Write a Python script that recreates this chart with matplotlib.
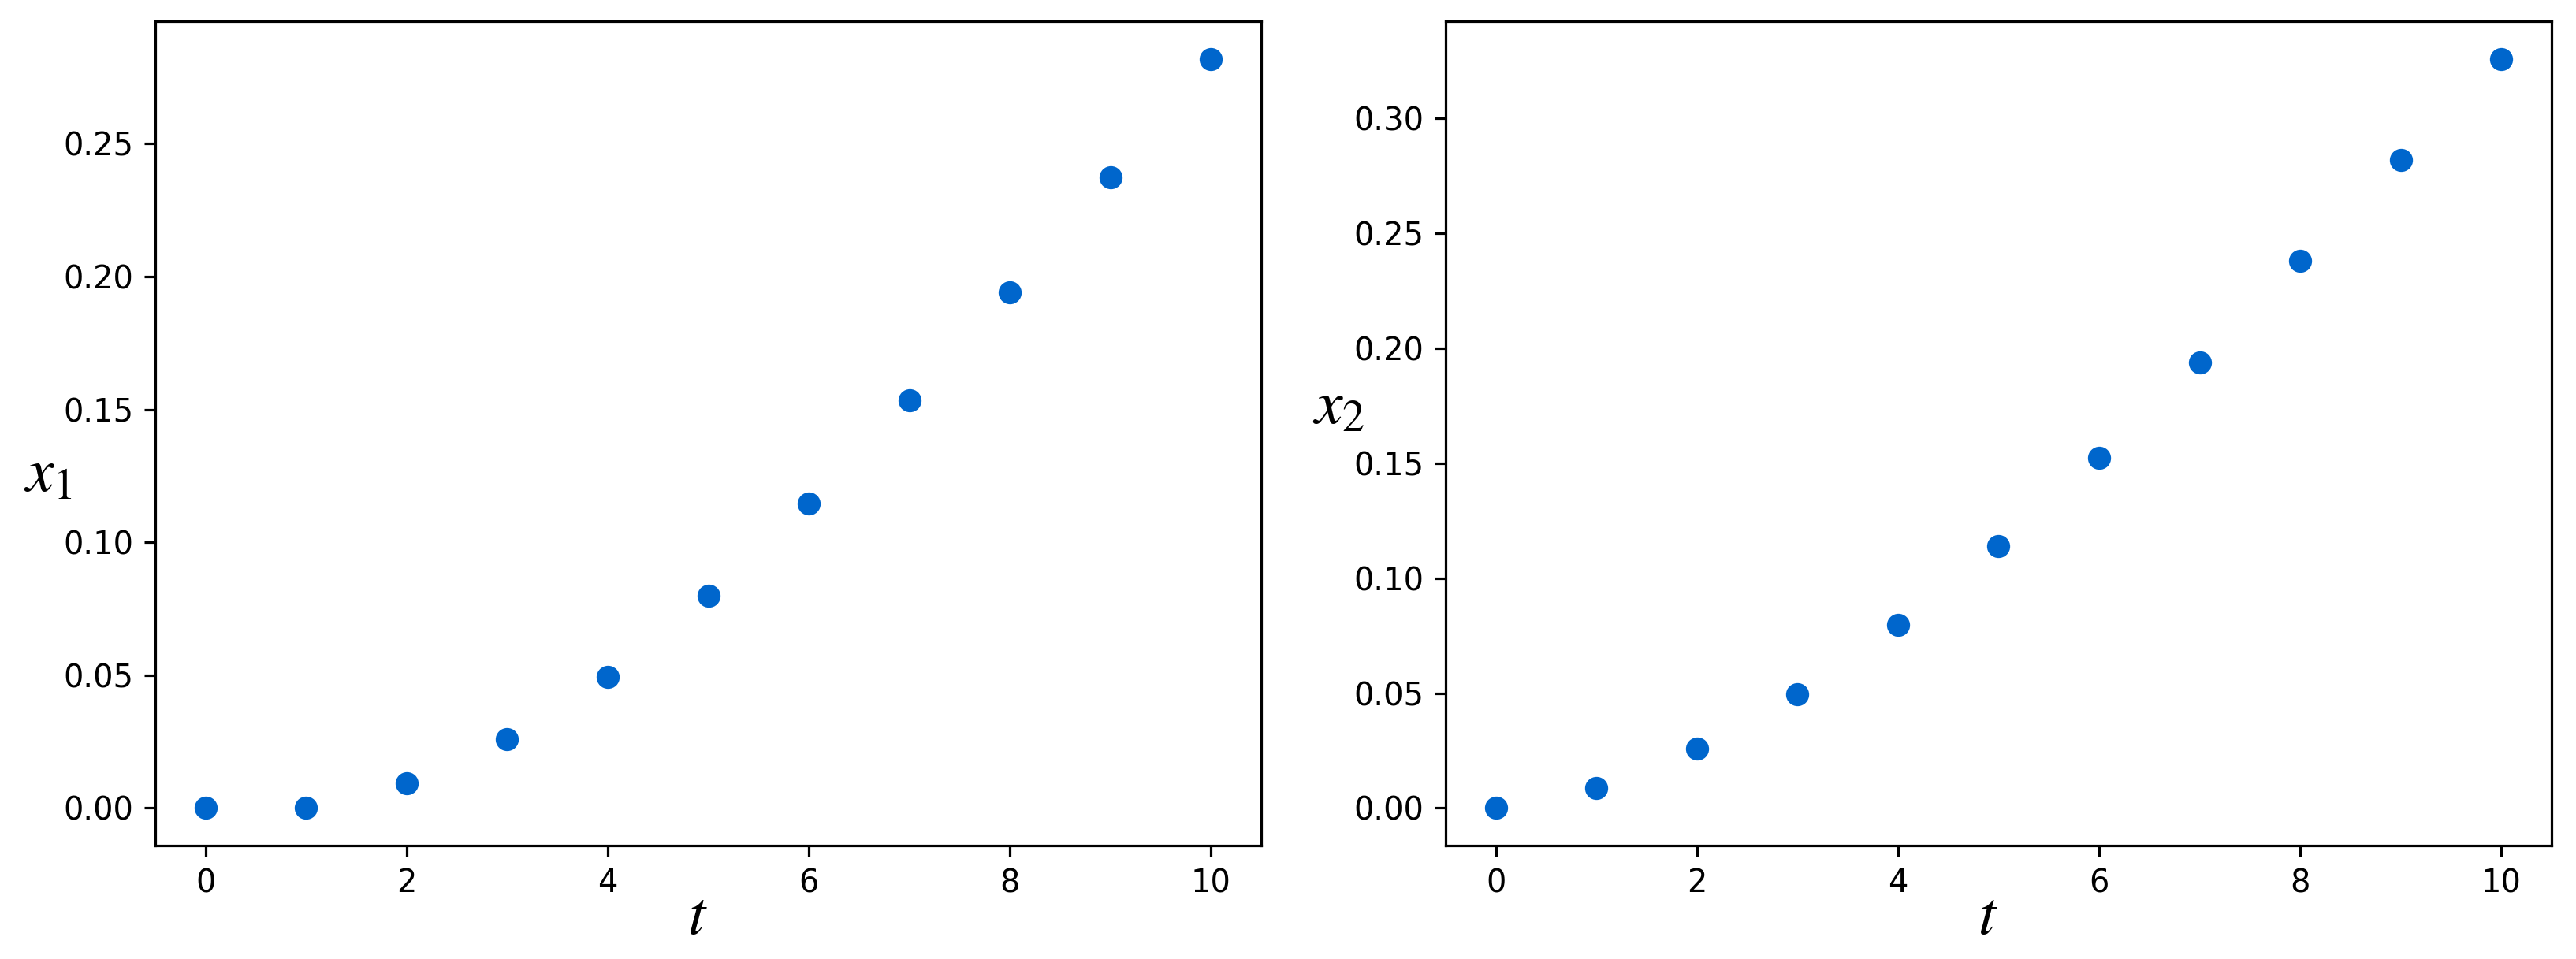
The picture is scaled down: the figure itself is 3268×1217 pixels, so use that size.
import numpy as np
import matplotlib
matplotlib.use("Agg")
import matplotlib.pyplot as plt

plt.rcParams['mathtext.fontset'] = 'stix'

# data
t = [0, 1, 2, 3, 4, 5, 6, 7, 8, 9, 10]
x1 = [0.0, 0.0, 0.0093, 0.026, 0.0495, 0.0798, 0.1145, 0.1535, 0.194, 0.2375, 0.282]
x2 = [0.0, 0.0087, 0.026, 0.0495, 0.0798, 0.1140, 0.1525, 0.194, 0.238, 0.282, 0.326]

point_color = '#0066cc'

fig = plt.figure(figsize=(3268 / 288, 1217 / 288), dpi=288)
ax1 = fig.add_axes([0.0603, 0.1183, 0.4293, 0.8595])
ax2 = fig.add_axes([0.5612, 0.1183, 0.4293, 0.8595])

ax1.scatter(t, x1, s=40, color=point_color)
ax2.scatter(t, x2, s=40, color=point_color)

for ax, lab, ly in [(ax1, '$x_1$', 0.452), (ax2, '$x_2$', 0.533)]:
    ax.set_xlabel('$t$', fontsize=20, va='center')
    ax.xaxis.set_label_coords(0.49, -0.086)
    ax.set_ylabel(lab, fontsize=20, rotation=0, va='center', ha='center')
    ax.yaxis.set_label_coords(-0.097, ly)
    ax.set_xticks([0, 2, 4, 6, 8, 10])

ax1.set_yticks([0.0, 0.05, 0.10, 0.15, 0.20, 0.25])
ax2.set_yticks([0.0, 0.05, 0.10, 0.15, 0.20, 0.25, 0.30])

fig.savefig('out.png', dpi=288)
